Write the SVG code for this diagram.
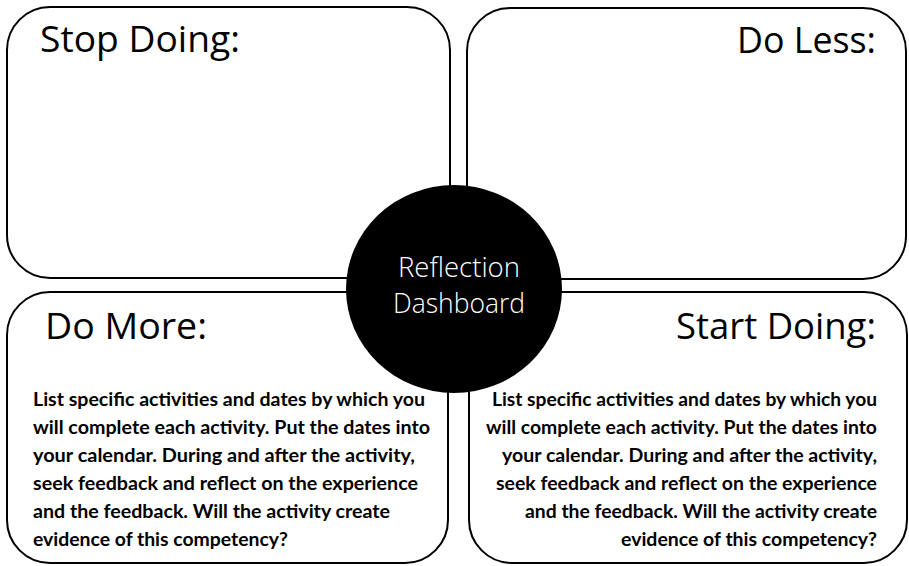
<svg xmlns="http://www.w3.org/2000/svg" width="909" height="566" viewBox="0 0 909 566">
  <style>
    .panel { fill: #ffffff; stroke: #000000; stroke-width: 2; }
    .title { font-family: "Open Sans", "Liberation Sans", sans-serif; font-size: 37px; fill: #000000; }
    .body { font-family: Lato, "Open Sans", "Liberation Sans", sans-serif; font-weight: bold; font-size: 18px; fill: #000000; }
    .hub { fill: #000000; }
    .hub-label { font-family: "Open Sans", "Liberation Sans", sans-serif; font-weight: 300; font-size: 28px; fill: #ffffff; text-anchor: middle; }
    .end { text-anchor: end; }
  </style>

  <!-- four reflection panels -->
  <g id="stop-doing">
    <rect class="panel" x="7" y="7" width="443" height="271" rx="43" ry="43"/>
    <text class="title" x="40" y="52" textLength="200" lengthAdjust="spacingAndGlyphs">Stop Doing:</text>
  </g>

  <g id="do-less">
    <rect class="panel" x="467" y="8" width="439" height="271" rx="43" ry="43"/>
    <text class="title end" x="876" y="53" textLength="139" lengthAdjust="spacingAndGlyphs">Do Less:</text>
  </g>

  <g id="do-more">
    <rect class="panel" x="7" y="292" width="441" height="271" rx="43" ry="43"/>
    <text class="title" x="45" y="339" textLength="162" lengthAdjust="spacingAndGlyphs">Do More:</text>
    <text class="body" x="33" y="406" textLength="392" lengthAdjust="spacingAndGlyphs">List specific activities and dates by which you</text>
    <text class="body" x="33" y="434" textLength="397" lengthAdjust="spacingAndGlyphs">will complete each activity. Put the dates into</text>
    <text class="body" x="33" y="462" textLength="382" lengthAdjust="spacingAndGlyphs">your calendar. During and after the activity,</text>
    <text class="body" x="33" y="490" textLength="385" lengthAdjust="spacingAndGlyphs">seek feedback and reflect on the experience</text>
    <text class="body" x="33" y="518" textLength="357" lengthAdjust="spacingAndGlyphs">and the feedback. Will the activity create</text>
    <text class="body" x="33" y="546" textLength="255" lengthAdjust="spacingAndGlyphs">evidence of this competency?</text>
  </g>

  <g id="start-doing">
    <rect class="panel" x="469" y="292" width="438" height="271" rx="43" ry="43"/>
    <text class="title end" x="876" y="339" textLength="200" lengthAdjust="spacingAndGlyphs">Start Doing:</text>
    <text class="body end" x="877" y="406" textLength="385" lengthAdjust="spacingAndGlyphs">List specific activities and dates by which you</text>
    <text class="body end" x="877" y="434" textLength="391" lengthAdjust="spacingAndGlyphs">will complete each activity. Put the dates into</text>
    <text class="body end" x="877" y="462" textLength="375" lengthAdjust="spacingAndGlyphs">your calendar. During and after the activity,</text>
    <text class="body end" x="877" y="490" textLength="381" lengthAdjust="spacingAndGlyphs">seek feedback and reflect on the experience</text>
    <text class="body end" x="877" y="518" textLength="352" lengthAdjust="spacingAndGlyphs">and the feedback. Will the activity create</text>
    <text class="body end" x="877" y="546" textLength="256" lengthAdjust="spacingAndGlyphs">evidence of this competency?</text>
  </g>

  <!-- no connectors in this layout -->
  <g id="connectors"/>

  <!-- central hub -->
  <g id="reflection-dashboard">
    <ellipse class="hub" cx="454" cy="289" rx="108" ry="104"/>
    <text class="hub-label" x="459" y="277" textLength="122" lengthAdjust="spacingAndGlyphs">Reflection</text>
    <text class="hub-label" x="459" y="313" textLength="132" lengthAdjust="spacingAndGlyphs">Dashboard</text>
  </g>
</svg>
